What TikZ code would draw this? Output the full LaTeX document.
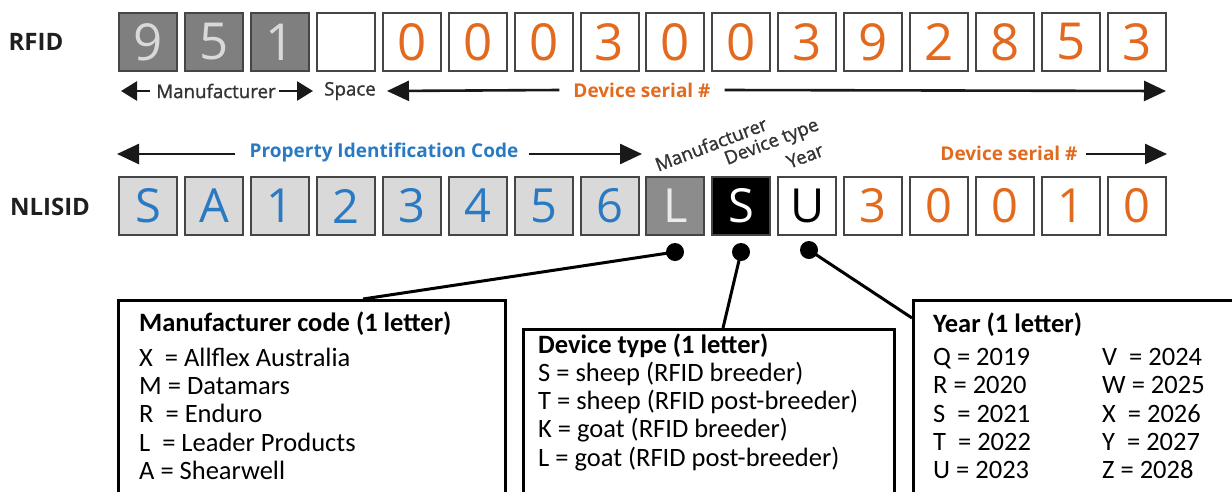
\documentclass[tikz,border=0pt]{standalone}
\usepackage{fontspec}
\setmainfont{Open Sans}
\newfontfamily\calfont{Carlito}
\newfontfamily\semifont{Open Sans}[FakeBold=1.3]
\usetikzlibrary{arrows.meta}
\definecolor{org}{HTML}{E26A1F}
\definecolor{blu}{HTML}{2A7AC3}
\definecolor{bordc}{HTML}{454545}
\definecolor{dgray}{HTML}{7F7F7F}
\definecolor{lgray}{HTML}{D9D9D9}
\definecolor{mgray}{HTML}{8C8C8C}
\definecolor{txtg}{HTML}{333333}
\begin{document}
\begin{tikzpicture}[x=1pt,y=-1pt,
  cell/.style={draw=bordc, line width=2, minimum width=58, minimum height=58, inner sep=0, font=\fontsize{51}{51}\selectfont},
  rg/.style={fill=dgray, text=lgray},
  rw/.style={fill=white},
  ro/.style={fill=white, text=org},
  nb/.style={fill=lgray, text=blu},
  nl/.style={fill=mgray, text=white!92!black},
  ns/.style={fill=black, text=white},
  nu/.style={fill=white, text=black},
  rowlab/.style={font=\bfseries\fontsize{24}{24}\selectfont, text=black!88},
  small/.style={font=\semifont\fontsize{18.7}{18.7}\selectfont, text=txtg, inner sep=0},
  hdr/.style={font=\bfseries\fontsize{19}{19}\selectfont, inner sep=0},
  rot/.style={font=\semifont\fontsize{18.5}{18.5}\selectfont, text=txtg, rotate=21, inner sep=0},
  arr/.style={line width=2.6, draw=black!90, -{Triangle[length=22pt,width=20pt]}},
  sarr/.style={line width=2.6, draw=black!90, -{Triangle[length=16pt,width=19pt]}},
  infobox/.style={draw=black, line width=3, anchor=north west, inner sep=0, fill=white},
  itxt/.style={anchor=base west, inner sep=0, text height=18, text depth=5, font=\calfont\fontsize{26.5}{28}\selectfont},
  ihdr/.style={anchor=base west, inner sep=0, text height=18, text depth=5, font=\calfont\bfseries\fontsize{26.5}{28}\selectfont},
  dot/.style={circle, fill=black, minimum size=18, inner sep=0},
  lead/.style={line width=3, draw=black}
]
\useasboundingbox (0,0) rectangle (1232,491);
\clip (0,0) rectangle (1232,491);

% row labels
\node[rowlab] (rfidlab) at (36,42) {RFID};
\node[rowlab] (nlislab) at (50,207) {NLISID};

% RFID cells
\foreach \i/\t/\s in {0/9/rg,1/5/rg,2/1/rg,3/{\phantom{0}}/rw,4/0/ro,5/0/ro,6/0/ro,7/3/ro,8/0/ro,9/0/ro,10/3/ro,11/9/ro,12/2/ro,13/8/ro,14/5/ro,15/3/ro}
  \node[cell,\s] (r\i) at ({148+65.93*\i},42) {\t};

% NLISID cells
\foreach \i/\t/\s in {0/S/nb,1/A/nb,2/1/nb,3/2/nb,4/3/nb,5/4/nb,6/5/nb,7/6/nb,8/L/nl,9/S/ns,10/U/nu,11/3/ro,12/0/ro,13/0/ro,14/1/ro,15/0/ro}
  \node[cell,\s,font=\fontsize{47}{47}\selectfont] (n\i) at ({148+65.93*\i},206) {\t};

% RFID arrow row
\node[small] (mfr) at (216,91) {Manufacturer};
\node[small] (spc) at (350,91) {Space};
\node[hdr, text=org] (ser1) at (642,90) {Device serial \#};
\coordinate (a1) at (121,91);
\coordinate (a2) at (313,91);
\coordinate (a3) at (387,91);
\coordinate (a4) at (1166,91);
\draw[sarr] (mfr.west) ++(-6,0) -- (a1);
\draw[sarr] (mfr.east) ++(3,0) -- (a2);
\draw[arr] (ser1.west) ++(-14,0) -- (a3);
\draw[arr] (ser1.east) ++(14,0) -- (a4);

% NLISID arrow row
\node[hdr, text=blu] (pic) at (384,153) {Property Identification Code};
\node[hdr, text=org] (ser2) at (1009,153) {Device serial \#};
\coordinate (b1) at (117,154);
\coordinate (b2) at (642,154);
\coordinate (b3) at (1167,154);
\draw[arr] (pic.west) ++(-14,1) -- (b1);
\draw[arr] (pic.east) ++(10,1) -- (b2);
\draw[arr] (ser2.east) ++(8,1) -- (b3);

% rotated labels
\node[rot] (rm) at (711,144) {Manufacturer};
\node[rot] (rd) at (772,143) {Device type};
\node[rot] (ry) at (805,156) {Year};

% info boxes
\node[infobox, minimum width=387, minimum height=260] (mbox) at (117,299) {};
\node[infobox, minimum width=371, minimum height=230] (dbox) at (522,328) {};
\node[infobox, minimum width=400, minimum height=260] (ybox) at (912,299) {};

% dots and leaders
\node[dot] (dL) at (675,252) {};
\node[dot] (dS) at (741,252) {};
\node[dot] (dU) at (809,250) {};
\coordinate (mL) at (363,299);
\coordinate (mS) at (723,328);
\coordinate (mU) at (912,318);
\draw[lead] (dL.center) -- (mL);
\draw[lead] (dS.center) -- (mS);
\draw[lead] (dU.center) -- (mU);

% manufacturer text
\node[ihdr] (mt) at (139,331) {Manufacturer code (1 letter)};
\node[itxt] (m1) at (139,366) {X\ \ = Allflex Australia};
\node[itxt] (m2) at (139,394) {M = Datamars};
\node[itxt] (m3) at (139,422) {R\ \ = Enduro};
\node[itxt] (m4) at (139,451) {L\ \ = Leader Products};
\node[itxt] (m5) at (139,479) {A = Shearwell};

% device text
\node[ihdr] (dt) at (538,353) {Device type (1 letter)};
\node[itxt] (d1) at (538,381) {S = sheep (RFID breeder)};
\node[itxt] (d2) at (538,409) {T = sheep (RFID post-breeder)};
\node[itxt] (d3) at (538,437) {K = goat (RFID breeder)};
\node[itxt] (d4) at (538,466) {L = goat (RFID post-breeder)};

% year text
\node[ihdr] (yt) at (933,332) {Year (1 letter)};
\node[itxt] (y1) at (933,365) {Q = 2019};
\node[itxt] (y2) at (933,393) {R = 2020};
\node[itxt] (y3) at (933,422) {S\ \ = 2021};
\node[itxt] (y4) at (933,450) {T\ \ = 2022};
\node[itxt] (y5) at (933,478) {U = 2023};
\node[itxt] (y6) at (1102,365) {V\ \ = 2024};
\node[itxt] (y7) at (1102,393) {W = 2025};
\node[itxt] (y8) at (1102,422) {X\ \ = 2026};
\node[itxt] (y9) at (1102,450) {Y\ \ = 2027};
\node[itxt] (y10) at (1102,478) {Z = 2028};
\end{tikzpicture}
\end{document}
